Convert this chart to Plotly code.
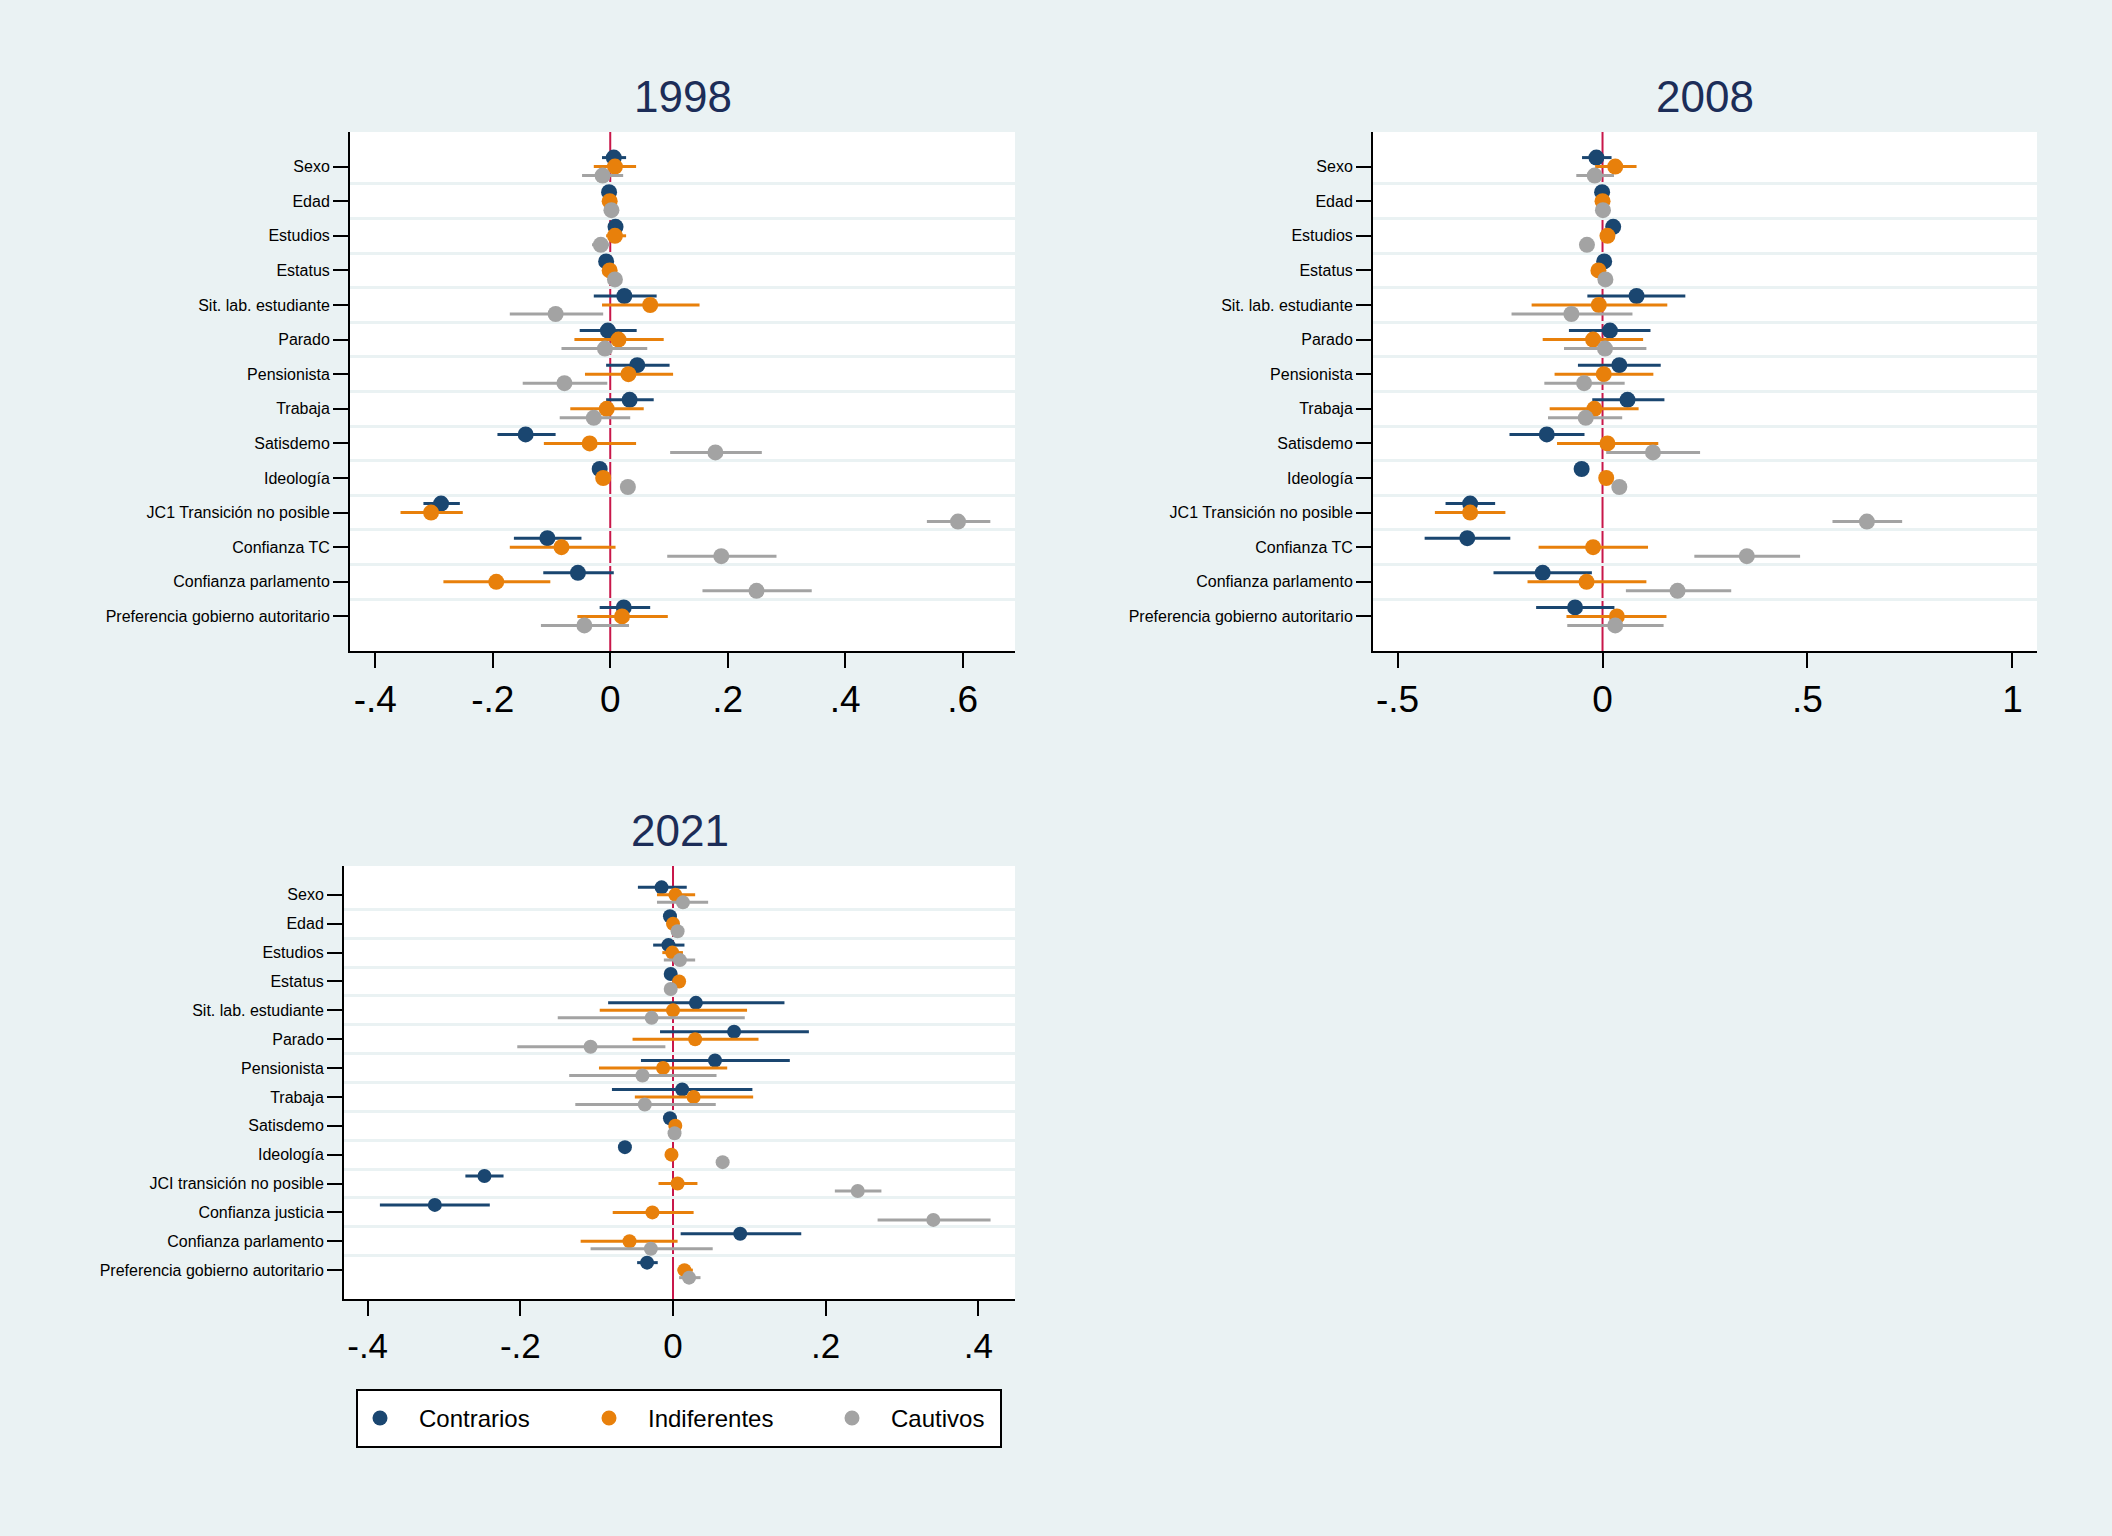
import plotly.graph_objects as go

W, H = 2112, 1536

# ---- data ----
labels_1998 = ["Sexo", "Edad", "Estudios", "Estatus", "Sit. lab. estudiante", "Parado",
               "Pensionista", "Trabaja", "Satisdemo", "Ideología", "JC1 Transición no posible",
               "Confianza TC", "Confianza parlamento", "Preferencia gobierno autoritario"]
labels_2008 = list(labels_1998)
labels_2021 = ["Sexo", "Edad", "Estudios", "Estatus", "Sit. lab. estudiante", "Parado",
               "Pensionista", "Trabaja", "Satisdemo", "Ideología", "JCI transición no posible",
               "Confianza justicia", "Confianza parlamento", "Preferencia gobierno autoritario"]

contrarios_1998 = [0.006, -0.002, 0.009, -0.007, 0.024, -0.004, 0.046, 0.033, -0.144, -0.018, -0.288, -0.107, -0.055, 0.023]
contrarios_1998_lo = [-0.014, -0.006, 0.002, -0.012, -0.028, -0.052, -0.007, -0.007, -0.192, -0.021, -0.318, -0.164, -0.114, -0.018]
contrarios_1998_hi = [0.027, 0.002, 0.016, -0.002, 0.079, 0.045, 0.101, 0.074, -0.093, -0.015, -0.256, -0.049, 0.006, 0.068]
indiferentes_1998 = [0.008, -0.001, 0.008, -0.001, 0.068, 0.014, 0.031, -0.006, -0.035, -0.012, -0.305, -0.083, -0.194, 0.020]
indiferentes_1998_lo = [-0.028, -0.005, -0.007, -0.006, -0.014, -0.061, -0.043, -0.068, -0.113, -0.016, -0.357, -0.171, -0.284, -0.056]
indiferentes_1998_hi = [0.044, 0.003, 0.027, 0.004, 0.152, 0.091, 0.107, 0.057, 0.044, -0.008, -0.251, 0.009, -0.102, 0.098]
cautivos_1998 = [-0.013, 0.002, -0.016, 0.008, -0.093, -0.009, -0.078, -0.028, 0.179, 0.030, 0.592, 0.189, 0.249, -0.044]
cautivos_1998_lo = [-0.048, -0.003, -0.031, 0.003, -0.171, -0.083, -0.149, -0.086, 0.102, 0.026, 0.539, 0.097, 0.157, -0.118]
cautivos_1998_hi = [0.022, 0.007, -0.001, 0.013, -0.012, 0.063, -0.005, 0.034, 0.258, 0.034, 0.647, 0.283, 0.343, 0.032]

contrarios_2008 = [-0.015, -0.001, 0.026, 0.004, 0.083, 0.018, 0.041, 0.061, -0.136, -0.051, -0.323, -0.330, -0.146, -0.067]
contrarios_2008_lo = [-0.050, -0.006, 0.018, -0.003, -0.037, -0.082, -0.060, -0.025, -0.227, -0.056, -0.383, -0.434, -0.266, -0.162]
contrarios_2008_hi = [0.022, 0.004, 0.034, 0.011, 0.202, 0.117, 0.142, 0.151, -0.044, -0.046, -0.262, -0.225, -0.026, 0.029]
indiferentes_2008 = [0.031, 0.000, 0.012, -0.010, -0.009, -0.023, 0.003, -0.020, 0.012, 0.009, -0.323, -0.023, -0.039, 0.035]
indiferentes_2008_lo = [-0.018, -0.005, 0.002, -0.017, -0.173, -0.146, -0.117, -0.129, -0.111, 0.004, -0.409, -0.156, -0.183, -0.088]
indiferentes_2008_hi = [0.083, 0.005, 0.022, -0.003, 0.158, 0.099, 0.124, 0.088, 0.136, 0.014, -0.237, 0.111, 0.107, 0.156]
cautivos_2008 = [-0.019, 0.001, -0.038, 0.007, -0.076, 0.006, -0.045, -0.041, 0.123, 0.041, 0.645, 0.352, 0.183, 0.031]
cautivos_2008_lo = [-0.064, -0.004, -0.046, 0.001, -0.222, -0.094, -0.142, -0.133, 0.009, 0.036, 0.561, 0.224, 0.057, -0.086]
cautivos_2008_hi = [0.028, 0.006, -0.030, 0.013, 0.073, 0.107, 0.054, 0.048, 0.238, 0.046, 0.731, 0.482, 0.314, 0.149]

contrarios_2021 = [-0.015, -0.004, -0.006, -0.003, 0.030, 0.080, 0.055, 0.012, -0.004, -0.063, -0.247, -0.312, 0.088, -0.034]
contrarios_2021_lo = [-0.046, -0.007, -0.026, -0.007, -0.085, -0.017, -0.042, -0.080, -0.007, -0.066, -0.272, -0.384, 0.010, -0.047]
contrarios_2021_hi = [0.018, -0.001, 0.015, 0.001, 0.146, 0.178, 0.153, 0.104, -0.001, -0.060, -0.222, -0.240, 0.168, -0.020]
indiferentes_2021 = [0.003, 0.000, -0.001, 0.008, 0.000, 0.029, -0.013, 0.027, 0.003, -0.002, 0.006, -0.027, -0.057, 0.015]
indiferentes_2021_lo = [-0.021, -0.003, -0.014, 0.004, -0.096, -0.053, -0.097, -0.050, 0.000, -0.005, -0.019, -0.079, -0.121, 0.006]
indiferentes_2021_hi = [0.029, 0.003, 0.013, 0.012, 0.097, 0.112, 0.071, 0.105, 0.006, 0.001, 0.032, 0.027, 0.006, 0.026]
cautivos_2021 = [0.013, 0.006, 0.009, -0.003, -0.028, -0.108, -0.040, -0.037, 0.002, 0.065, 0.242, 0.341, -0.029, 0.021]
cautivos_2021_lo = [-0.021, 0.003, -0.012, -0.007, -0.151, -0.204, -0.136, -0.128, -0.001, 0.062, 0.212, 0.268, -0.108, 0.008]
cautivos_2021_hi = [0.046, 0.009, 0.029, 0.001, 0.094, -0.010, 0.057, 0.056, 0.005, 0.068, 0.273, 0.416, 0.052, 0.036]

groups = ["Contrarios", "Indiferentes", "Cautivos"]
colors = ["#1a4670", "#e8800b", "#a3a3a3"]

BG = "#eaf2f3"
FONT = "Liberation Sans"


def px_x(x):
    return x / W


def px_y(y):
    return 1 - y / H


panels = [
    # year, axis suffix, labels, series, pixel box (l, r, top, bottom), x range, ticks, tick text, marker size, tick font
    ("1998", "", labels_1998,
     [(contrarios_1998, contrarios_1998_lo, contrarios_1998_hi),
      (indiferentes_1998, indiferentes_1998_lo, indiferentes_1998_hi),
      (cautivos_1998, cautivos_1998_lo, cautivos_1998_hi)],
     (350, 1015, 132, 651), [-0.443, 0.689], [-0.4, -0.2, 0, 0.2, 0.4, 0.6],
     ["-.4", "-.2", "0", ".2", ".4", ".6"], 16, 37),
    ("2008", "2", labels_2008,
     [(contrarios_2008, contrarios_2008_lo, contrarios_2008_hi),
      (indiferentes_2008, indiferentes_2008_lo, indiferentes_2008_hi),
      (cautivos_2008, cautivos_2008_lo, cautivos_2008_hi)],
     (1373, 2037, 132, 651), [-0.56, 1.06], [-0.5, 0, 0.5, 1],
     ["-.5", "0", ".5", "1"], 16, 37),
    ("2021", "3", labels_2021,
     [(contrarios_2021, contrarios_2021_lo, contrarios_2021_hi),
      (indiferentes_2021, indiferentes_2021_lo, indiferentes_2021_hi),
      (cautivos_2021, cautivos_2021_lo, cautivos_2021_hi)],
     (344, 1015, 866, 1299), [-0.431, 0.448], [-0.4, -0.2, 0, 0.2, 0.4],
     ["-.4", "-.2", "0", ".2", ".4"], 14, 35),
]

offsets = [-0.26, 0.0, 0.26]

fig = go.Figure()
shapes = []
annotations = []
layout_axes = {}

for year, sfx, labels, series, box, xr, tv, tt, msize, tfs in panels:
    l, r, t, b = box
    n = len(labels)
    cats = list(range(1, n + 1))
    for (est, lo, hi), col, off, name in zip(series, colors, offsets, groups):
        fig.add_trace(go.Scatter(
            x=est, y=[c + off for c in cats],
            xaxis="x" + sfx, yaxis="y" + sfx,
            mode="markers", name=name, showlegend=False,
            marker=dict(color=col, size=msize, line=dict(width=0)),
            error_x=dict(type="data", symmetric=False,
                         array=[h - e for h, e in zip(hi, est)],
                         arrayminus=[e - lo_ for e, lo_ in zip(est, lo)],
                         color=col, thickness=3, width=0),
        ))
    layout_axes["xaxis" + sfx] = dict(
        domain=[px_x(l), px_x(r)], anchor="y" + sfx, range=xr,
        tickmode="array", tickvals=tv, ticktext=tt,
        showline=True, linecolor="black", linewidth=2,
        ticks="outside", ticklen=15, tickwidth=2, tickcolor="black",
        showgrid=False, zeroline=False,
        tickfont=dict(family=FONT, size=tfs, color="black"),
    )
    layout_axes["yaxis" + sfx] = dict(
        domain=[px_y(b), px_y(t)], anchor="x" + sfx, range=[n + 1, 0],
        tickmode="array", tickvals=cats, ticktext=labels,
        showline=True, linecolor="black", linewidth=2,
        ticks="outside", ticklen=15, tickwidth=2, tickcolor="black",
        showgrid=False, zeroline=False,
        minor=dict(tickmode="array", tickvals=[c + 0.5 for c in cats[:-1]],
                   showgrid=True, gridcolor=BG, gridwidth=3, ticks=""),
        tickfont=dict(family=FONT, size=16, color="black"),
    )
    # reference line at zero
    shapes.append(dict(type="line", xref="x" + sfx, yref="y" + sfx + " domain",
                       x0=0, x1=0, y0=0, y1=1, layer="below",
                       line=dict(color="#c8174a", width=2)))
    annotations.append(dict(text=year, xref="paper", yref="paper",
                            x=px_x((l + r) / 2), y=px_y(t - 36),
                            xanchor="center", yanchor="middle", showarrow=False,
                            font=dict(family=FONT, size=44, color="#1c2d58")))

# legend box drawn by hand (Stata style)
lx0, lx1, ly0, ly1 = 357, 1001, 1390, 1447
shapes.append(dict(type="rect", xref="paper", yref="paper",
                   x0=px_x(lx0), x1=px_x(lx1), y0=px_y(ly1), y1=px_y(ly0),
                   fillcolor="white", line=dict(color="black", width=2)))
leg_marker_x = [380, 609, 852]
leg_text_x = [417, 646, 889]
leg_y = 1418
for name, col, mx, tx in zip(groups, colors, leg_marker_x, leg_text_x):
    shapes.append(dict(type="circle", xref="paper", yref="paper",
                       x0=px_x(mx - 7.5), x1=px_x(mx + 7.5),
                       y0=px_y(leg_y + 7.5), y1=px_y(leg_y - 7.5),
                       fillcolor=col, line=dict(width=0)))
    annotations.append(dict(text=name, xref="paper", yref="paper",
                            x=px_x(tx), y=px_y(leg_y), xanchor="left", yanchor="middle",
                            showarrow=False,
                            font=dict(family=FONT, size=24, color="black")))

fig.update_layout(
    width=W, height=H,
    margin=dict(l=0, r=0, t=0, b=0),
    paper_bgcolor=BG, plot_bgcolor="white",
    showlegend=False,
    shapes=shapes, annotations=annotations,
    **layout_axes,
)

# page body has a default 8px margin; drop it so the figure fills the window
fig.write_html("out.html", config={"displayModeBar": False},
               post_script="document.body.style.margin='0';")
